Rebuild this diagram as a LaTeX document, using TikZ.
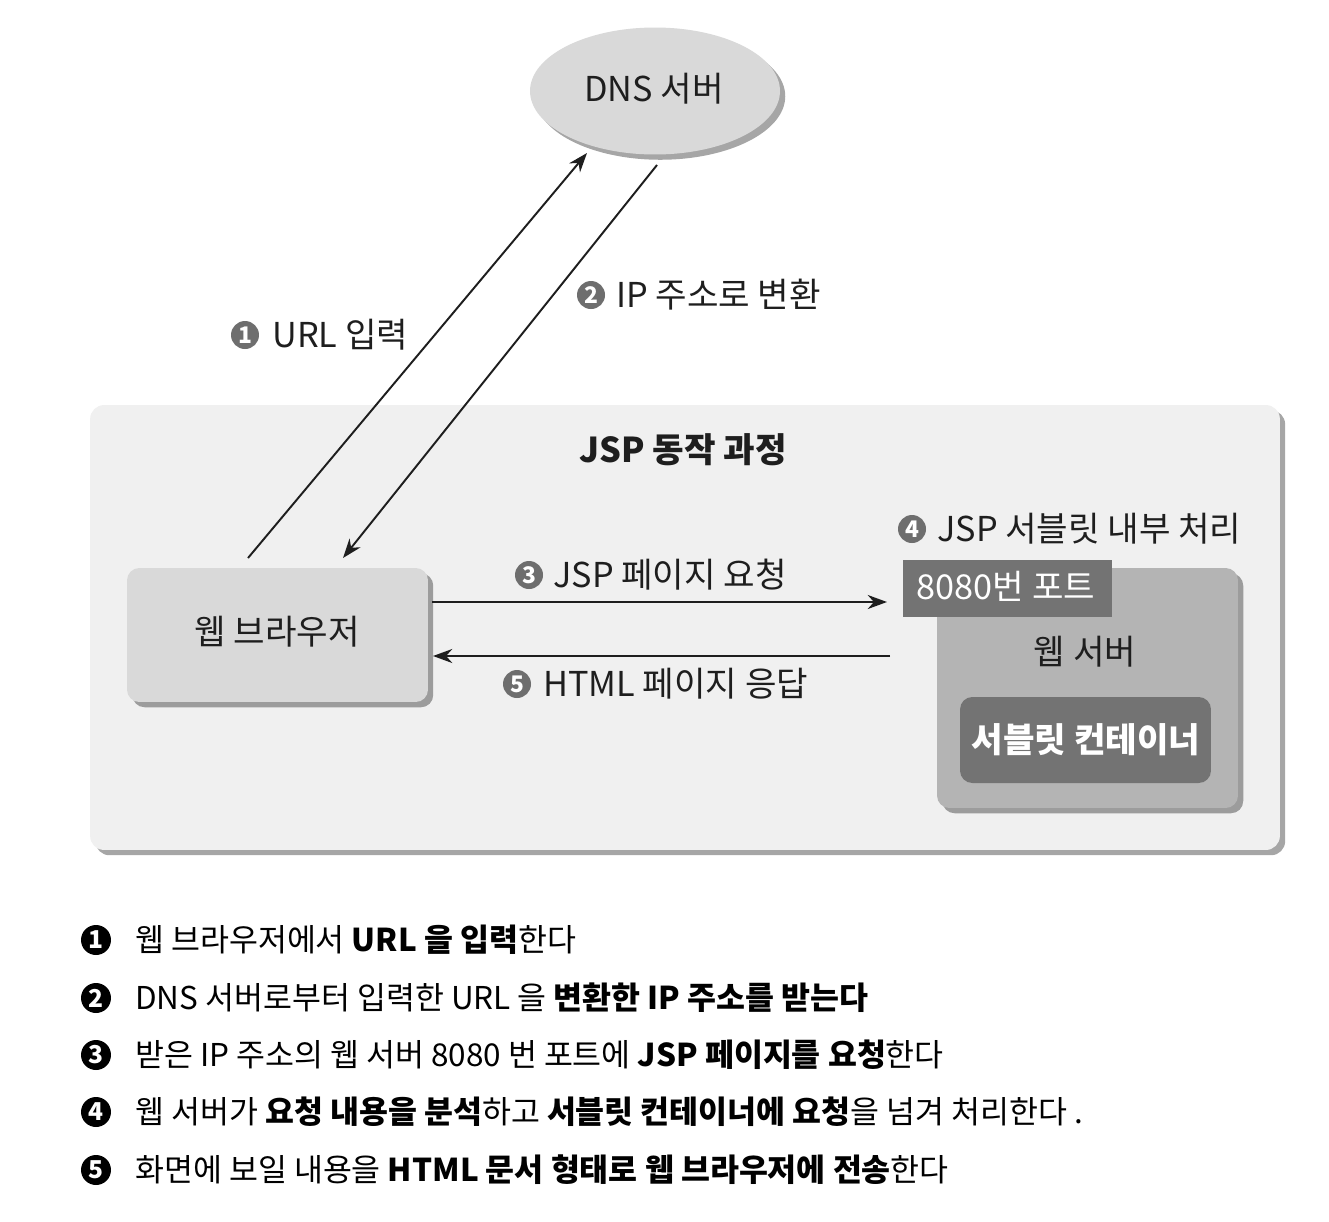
\documentclass[tikz,border=0pt]{standalone}
\usepackage{fontspec}
\setmainfont{Noto Sans CJK KR}
\usetikzlibrary{shadows,arrows.meta,shapes.geometric}
\definecolor{panelbg}{HTML}{F0F0F0}
\definecolor{boxgray}{HTML}{D9D9D9}
\definecolor{srvgray}{HTML}{B4B4B4}
\definecolor{darkgray}{HTML}{737373}
\definecolor{numgray}{HTML}{6E6E6E}
\definecolor{txt}{HTML}{1E1E1E}
\tikzset{
  dfont/.style={font=\fontsize{19.5pt}{23pt}\selectfont, text=txt},
  lfont/.style={font=\fontsize{17.9pt}{21pt}\selectfont, text=black},
  shad/.style={drop shadow={shadow xshift=3pt,shadow yshift=-3pt,opacity=0.35,fill=black}},
  arr/.style={draw=txt, line width=1.1pt, -{Stealth[length=11pt,width=8pt]}},
  dnum/.style={circle, fill=numgray, inner sep=0pt, minimum size=0.56cm, text=white,
    font=\fontsize{13pt}{14pt}\selectfont\bfseries},
  lnum/.style={circle, fill=black, inner sep=0pt, minimum size=0.6cm, text=white,
    font=\fontsize{14pt}{15pt}\selectfont\bfseries},
  dlabel/.style={dfont, anchor=west, inner sep=0pt, text height=15.6pt, text depth=1.6pt},
  ltext/.style={lfont, anchor=west, inner sep=0pt, text height=14.3pt, text depth=1.4pt},
  ctext/.style={text height=15.6pt, text depth=1.6pt},
}
\begin{document}
\begin{tikzpicture}[x=0.02cm,y=-0.02cm]
\useasboundingbox[fill=white] (0,0) rectangle (1329,1221);

% panel
\node[shad, fill=panelbg, rounded corners=8pt, minimum width=23.8cm, minimum height=8.9cm, inner sep=0pt] (panel) at (685,627.5) {};
\node[dfont, ctext, inner sep=0pt, font=\fontsize{19.5pt}{23pt}\selectfont\bfseries] (title) at (683,450) {JSP 동작 과정};

% DNS server
\node[shad, ellipse, fill=boxgray, minimum width=5cm, minimum height=2.54cm, inner sep=0pt] (dns) at (655,91) {};
\node[dfont, ctext, inner sep=0pt] (dnstxt) at (654,89) {DNS 서버};

% web browser
\node[shad, fill=boxgray, rounded corners=7pt, minimum width=6.02cm, minimum height=2.68cm, inner sep=0pt] (browser) at (277.5,635) {};
\node[dfont, ctext, inner sep=0pt] (browsertxt) at (277,632) {웹 브라우저};

% web server
\node[shad, fill=srvgray, rounded corners=7pt, minimum width=6.02cm, minimum height=4.8cm, inner sep=0pt] (server) at (1087.5,688) {};
\node[dfont, ctext, inner sep=0pt] (servertxt) at (1085,652) {웹 서버};
\node[fill=darkgray, minimum width=4.18cm, minimum height=1.14cm, inner sep=0pt] (port) at (1007.5,588.5) {};
\node[dfont, ctext, inner sep=0pt, text=white] (porttxt) at (1006,587) {8080번 포트};
\node[fill=darkgray, rounded corners=7pt, minimum width=5.02cm, minimum height=1.72cm, inner sep=0pt] (container) at (1085.5,740) {};
\node[dfont, ctext, inner sep=0pt, text=white, font=\fontsize{19.5pt}{23pt}\selectfont\bfseries] (containertxt) at (1086,740) {서블릿 컨테이너};

% connectors
\coordinate (a1s) at (248,558);
\coordinate (a1e) at (587,153);
\coordinate (a2s) at (657,165);
\coordinate (a2e) at (343,558);
\coordinate (a3s) at (432,602);
\coordinate (a3e) at (887,602);
\coordinate (a5s) at (890,656);
\coordinate (a5e) at (433,656);
\draw[arr] (a1s) -- (a1e);
\draw[arr] (a2s) -- (a2e);
\draw[arr] (a3s) -- (a3e);
\draw[arr] (a5s) -- (a5e);

% diagram labels
\node[dnum] (n1) at (245,335) {1};
\node[dlabel] (l1) at (272,335) {URL 입력};
\node[dnum] (n2) at (591,295) {2};
\node[dlabel] (l2) at (616,295) {IP 주소로 변환};
\node[dnum] (n3) at (529,575) {3};
\node[dlabel] (l3) at (553,575) {JSP 페이지 요청};
\node[dnum] (n4) at (912,529) {4};
\node[dlabel] (l4) at (937,529) {JSP 서블릿 내부 처리};
\node[dnum] (n5) at (517,684) {5};
\node[dlabel] (l5) at (543,684) {HTML 페이지 응답};

% list
\node[lnum] (b1) at (96,940) {1};
\node[ltext] (t1) at (135,940) {웹 브라우저에서 \textbf{URL 을 입력}한다};
\node[lnum] (b2) at (96,998) {2};
\node[ltext] (t2) at (135,998) {DNS 서버로부터 입력한 URL 을 \textbf{변환한 IP 주소를 받는다}};
\node[lnum] (b3) at (96,1055) {3};
\node[ltext] (t3) at (135,1055) {받은 IP 주소의 웹 서버 8080 번 포트에 \textbf{JSP 페이지를 요청}한다};
\node[lnum] (b4) at (96,1112) {4};
\node[ltext] (t4) at (135,1112) {웹 서버가 \textbf{요청 내용을 분석}하고 \textbf{서블릿 컨테이너에 요청}을 넘겨 처리한다 .};
\node[lnum] (b5) at (96,1170) {5};
\node[ltext] (t5) at (135,1170) {화면에 보일 내용을 \textbf{HTML 문서 형태로 웹 브라우저에 전송}한다};
\end{tikzpicture}
\end{document}
